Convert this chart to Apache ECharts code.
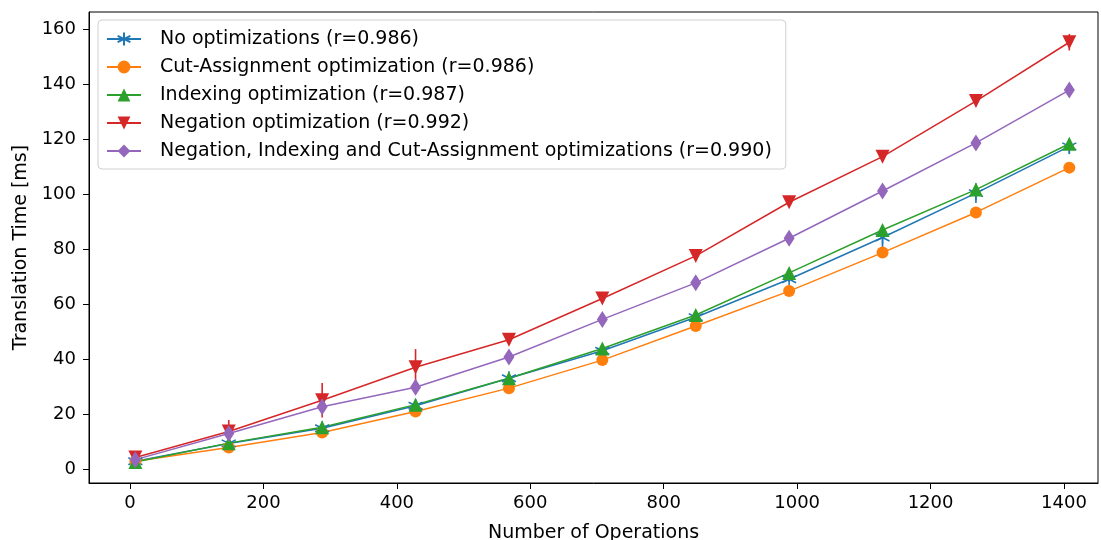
<!DOCTYPE html>
<html>
<head>
<meta charset="utf-8">
<script src="https://cdn.jsdelivr.net/npm/echarts@6/dist/echarts.min.js"></script>
<style>
html, body { margin: 0; padding: 0; background: #fff; }
#chart { width: 1101px; height: 540px; }
</style>
</head>
<body>
<div id="chart"></div>
<script>
// number of operations
var ops = [8, 148, 288, 428, 568, 708, 848, 988, 1128, 1268, 1408];
var xTicks = [0, 200, 400, 600, 800, 1000, 1200, 1400];
var yTicks = [0, 20, 40, 60, 80, 100, 120, 140, 160];

// translation time [ms]
var noOpt = [2.8, 9.3, 14.8, 23.0, 33.0, 43.0, 55.2, 69.0, 84.2, 100.3, 117.3];
var cutAssign = [2.8, 7.8, 13.3, 20.9, 29.4, 39.6, 52.0, 64.7, 78.7, 93.3, 109.6];
var indexing = [2.5, 9.4, 15.2, 23.4, 33.0, 43.8, 56.0, 71.3, 86.9, 101.6, 118.3];
var negation = [4.2, 13.6, 25.0, 37.0, 47.0, 62.0, 77.5, 97.0, 113.6, 133.8, 155.2];
var combined = [3.4, 12.9, 22.6, 29.7, 40.7, 54.4, 67.7, 83.9, 101.1, 118.6, 137.8];

// error bar half-widths
var noOptErr = [0.5, 1, 1, 1, 0.5, 0.5, 0.5, 1, 3.7, 3.6, 2.8];
var cutAssignErr = [0.5, 0.5, 0.5, 0.5, 0.5, 0.5, 0.5, 0.5, 0.5, 0.5, 0.5];
var indexingErr = [0.5, 0.5, 0.5, 0.5, 0.5, 0.5, 0.5, 0.5, 0.5, 0.5, 0.5];
var negationErr = [1, 4.2, 6.3, 6.6, 1, 1, 1, 1, 1, 1, 3];
var combinedErr = [1, 1, 1, 1, 1, 1, 1, 1, 1, 1, 1];

var names = [
	'No optimizations (r=0.986)',
	'Cut-Assignment optimization (r=0.986)',
	'Indexing optimization (r=0.987)',
	'Negation optimization (r=0.992)',
	'Negation, Indexing and Cut-Assignment optimizations (r=0.990)'
];
var colors = ['#1f77b4', '#ff7f0e', '#2ca02c', '#d62728', '#9467bd'];
var values = [noOpt, cutAssign, indexing, negation, combined];
var errs = [noOptErr, cutAssignErr, indexingErr, negationErr, combinedErr];
var symbols = [
	{ symbol: 'path://M0,-10L0,10M-8.66,-5L8.66,5M-8.66,5L8.66,-5', symbolSize: 14, symbolRotate: 0 },
	{ symbol: 'circle', symbolSize: 12, symbolRotate: 0 },
	{ symbol: 'triangle', symbolSize: 14, symbolRotate: 0 },
	{ symbol: 'triangle', symbolSize: 14, symbolRotate: 180 },
	{ symbol: 'diamond', symbolSize: [11, 17], symbolRotate: 0 }
];

function pairs(ys) {
	return ops.map(function(x, i) { return [x, ys[i]]; });
}

function errData(ys, es) {
	return ops.map(function(x, i) { return [x, ys[i] - es[i], ys[i] + es[i]]; });
}

var series = [];
values.forEach(function(ys, k) {
	series.push({
		type: 'custom',
		silent: true,
		z: 1,
		data: errData(ys, errs[k]),
		encode: { x: 0, y: [1, 2] },
		renderItem: function(params, api) {
			var p1 = api.coord([api.value(0), api.value(1)]);
			var p2 = api.coord([api.value(0), api.value(2)]);
			return {
				type: 'line',
				shape: { x1: p1[0], y1: p1[1], x2: p2[0], y2: p2[1] },
				style: { stroke: colors[k], lineWidth: 1.6 }
			};
		}
	});
});
values.forEach(function(ys, k) {
	series.push({
		name: names[k],
		type: 'line',
		z: 2,
		data: pairs(ys),
		symbol: symbols[k].symbol,
		symbolSize: symbols[k].symbolSize,
		symbolRotate: symbols[k].symbolRotate,
		showAllSymbol: true,
		lineStyle: { color: colors[k], width: 1.5 },
		itemStyle: k == 0 ? { color: colors[k], borderColor: colors[k], borderWidth: 1.5 } : { color: colors[k], borderWidth: 0 },
		emphasis: { disabled: true }
	});
});

var option = {
	animation: false,
	backgroundColor: '#fff',
	textStyle: { fontFamily: 'DejaVu Sans' },
	grid: {
		left: 89, right: 3, top: 12, bottom: 57,
		containLabel: false, outerBoundsMode: 'none',
		show: true, borderColor: '#000', borderWidth: 1, backgroundColor: 'transparent'
	},
	legend: {
		data: names,
		orient: 'vertical',
		left: 98, top: 20,
		padding: [9, 14, 8, 8],
		itemGap: 8,
		itemWidth: 34, itemHeight: 16,
		backgroundColor: '#fff',
		borderColor: '#d0d0d0', borderWidth: 1, borderRadius: 4,
		textStyle: { fontSize: 19, color: '#000', lineHeight: 20, padding: [0, 0, 0, 14], fontFamily: 'DejaVu Sans' }
	},
	xAxis: {
		type: 'value',
		min: -61.5, max: 1451,
		name: 'Number of Operations',
		nameLocation: 'middle',
		nameGap: 41,
		nameTextStyle: { fontSize: 19, color: '#000', fontFamily: 'DejaVu Sans' },
		splitLine: { show: false },
		axisLine: { show: true, onZero: false, lineStyle: { color: '#000', width: 1 } },
		axisTick: { show: true, length: 6, customValues: xTicks, lineStyle: { color: '#000' } },
		axisLabel: {
			customValues: xTicks, margin: 11, fontSize: 18, color: '#000', fontFamily: 'DejaVu Sans',
			formatter: function(v) { return String(v); }
		}
	},
	yAxis: {
		type: 'value',
		min: -5.1, max: 166.2,
		name: 'Translation Time [ms]',
		nameLocation: 'middle',
		nameGap: 56,
		nameTextStyle: { fontSize: 19, color: '#000', fontFamily: 'DejaVu Sans' },
		splitLine: { show: false },
		axisLine: { show: true, onZero: false, lineStyle: { color: '#000', width: 1 } },
		axisTick: { show: true, length: 6, customValues: yTicks, lineStyle: { color: '#000' } },
		axisLabel: {
			customValues: yTicks, margin: 13, fontSize: 18, color: '#000', fontFamily: 'DejaVu Sans',
			formatter: function(v) { return String(v); }
		}
	},
	series: series
};

var chart = echarts.init(document.getElementById('chart'));
chart.setOption(option);
</script>
</body>
</html>
